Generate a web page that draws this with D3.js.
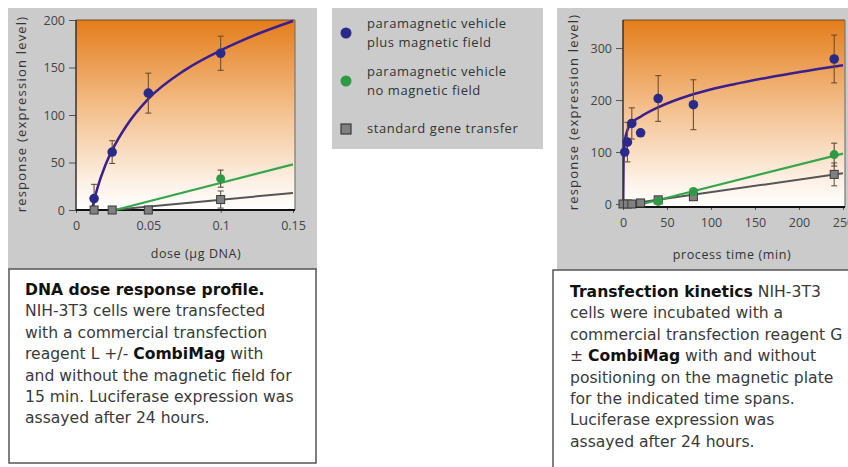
<!DOCTYPE html>
<html><head><meta charset="utf-8">
<script src="https://cdn.jsdelivr.net/npm/d3@7"></script>
<style>body{margin:0;background:#fff}svg{display:block}</style>
</head><body>
<svg id="c" width="848" height="467"></svg>
<script>
// ---------- DATA ----------
// Left chart: DNA dose response
const doseTicks = [0, 0.05, 0.1, 0.15];
const doseRespTicks = [0, 50, 100, 150, 200];
const doseBlueX = [0.0125, 0.025, 0.05, 0.1];
const doseBlueY = [12, 61, 123, 165];
const doseBlueErr = [15, 12, 21, 18];
const doseGreenX = [0.0125, 0.025, 0.05, 0.1];
const doseGreenY = [0, 0, 0, 33];
const doseGreenErr = [0, 0, 0, 9];
const doseGrayX = [0.0125, 0.025, 0.05, 0.1];
const doseGrayY = [0, 0, 0, 11];
const doseGrayErr = [0, 0, 0, 9];
// fitted trend curves
const doseBlueFitX = [0.011, 0.0125, 0.015, 0.02, 0.025, 0.035, 0.05, 0.075, 0.1, 0.125, 0.15];
const doseBlueFitY = [0, 10, 24, 46, 63, 89, 117, 147, 168, 185, 199];
const doseGreenFitX = [0.027, 0.15];
const doseGreenFitY = [0, 48];
const doseGrayFitX = [0.025, 0.15];
const doseGrayFitY = [0, 18];

// Right chart: transfection kinetics
const timeTicks = [0, 50, 100, 150, 200, 250];
const timeRespTicks = [0, 100, 200, 300];
const timeBlueX = [2, 5, 10, 20, 40, 80, 240];
const timeBlueY = [100, 119, 155, 137, 203, 191, 279];
const timeBlueErr = [0, 38, 30, 0, 44, 48, 46];
const timeGreenX = [0, 5, 10, 40, 80, 240];
const timeGreenY = [0, 0, 0, 5, 24, 95];
const timeGreenErr = [0, 0, 0, 0, 0, 22];
const timeGrayX = [0, 5, 10, 20, 40, 80, 240];
const timeGrayY = [0, 0, 0, 2, 8, 14, 57];
const timeGrayErr = [0, 0, 0, 0, 0, 6, 22];
const timeBlueFitX = [0.2, 0.6, 1, 2, 5, 10, 20, 40, 65, 90, 125, 164, 201, 250];
const timeBlueFitY = [0, 80, 100, 120, 142, 156, 168, 186, 203, 216, 230, 243, 254, 267];
const timeGreenFitX = [22, 250];
const timeGreenFitY = [0, 97];
const timeGrayFitX = [10, 250];
const timeGrayFitY = [1, 59];

const legendLabels = [["paramagnetic vehicle", "plus magnetic field"], ["paramagnetic vehicle", "no magnetic field"], ["standard gene transfer"]];

const leftCaption = [
  [["b", "DNA dose response profile."]],
  [["n", "NIH-3T3 cells were transfected"]],
  [["n", "with a commercial transfection"]],
  [["n", "reagent L +/- "], ["b", "CombiMag"], ["n", " with"]],
  [["n", "and without the magnetic field for"]],
  [["n", "15 min. Luciferase expression was"]],
  [["n", "assayed after 24 hours."]]
];
const rightCaption = [
  [["b", "Transfection kinetics"], ["n", " NIH-3T3"]],
  [["n", "cells were incubated with a"]],
  [["n", "commercial transfection reagent G"]],
  [["n", "\u00b1 "], ["b", "CombiMag"], ["n", " with and without"]],
  [["n", "positioning on the magnetic plate"]],
  [["n", "for the indicated time spans."]],
  [["n", "Luciferase expression was"]],
  [["n", "assayed after 24 hours."]]
];

// ---------- DRAW ----------
const svg = d3.select("#c");
const defs = svg.append("defs");
const grad = defs.append("linearGradient").attr("id", "og").attr("x1", 0).attr("y1", 0).attr("x2", 0).attr("y2", 1);
grad.append("stop").attr("offset", "0%").attr("stop-color", "#e47d1a");
grad.append("stop").attr("offset", "45%").attr("stop-color", "#f3bd88");
grad.append("stop").attr("offset", "85%").attr("stop-color", "#fdf0e4");
grad.append("stop").attr("offset", "100%").attr("stop-color", "#ffffff");

const PANEL = "#cbcbcb";
const BLUE = "#2a2a8a", BLUE_LINE = "#3b1f8e";
const GREEN = "#2f9a44", GREEN_LINE = "#36a64a";
const GRAY = "#808080", GRAY_LINE = "#555";
const FONT = "'Open Sans', 'Noto Sans', sans-serif";
const CAPFONT = "'DejaVu Sans', Verdana, sans-serif";

// panels
svg.append("rect").attr("x", 8).attr("y", 8).attr("width", 309).attr("height", 262).attr("fill", PANEL);
svg.append("rect").attr("x", 557).attr("y", 8).attr("width", 300).attr("height", 262).attr("fill", PANEL);
svg.append("rect").attr("x", 332).attr("y", 8).attr("width", 211).attr("height", 141).attr("fill", PANEL);

function chart(o) {
  const g = svg.append("g");
  const x = d3.scaleLinear().domain(o.xDom).range([o.x0, o.x1]);
  const y = d3.scaleLinear().domain(o.yDom).range([o.yZero, o.yTop]);
  g.append("rect").attr("x", o.x0).attr("y", o.yTop).attr("width", o.x1 - o.x0 + o.extraR)
    .attr("height", o.yBottom - o.yTop).attr("fill", "url(#og)");
  g.append("line").attr("x1", o.x0).attr("x2", o.x1 + o.extraR).attr("y1", o.yTop).attr("y2", o.yTop).attr("stroke", "#6a4a2a").attr("stroke-width", 1.2);
  g.append("line").attr("x1", o.x1 + o.extraR).attr("x2", o.x1 + o.extraR).attr("y1", o.yTop).attr("y2", o.yBottom).attr("stroke", "#777").attr("stroke-width", 1.2);

  const ya = g.append("g").attr("transform", `translate(${o.x0},0)`)
    .call(d3.axisLeft(y).tickValues(o.yTicks).tickSize(7).tickPadding(4).tickFormat(d3.format("d")));
  ya.select(".domain").remove();
  ya.append("line").attr("x1", 0).attr("x2", 0).attr("y1", o.yTop).attr("y2", o.yBottom).attr("stroke", "#333").attr("stroke-width", 1.5);
  ya.selectAll(".tick line").attr("stroke", "#555");
  ya.selectAll(".tick text").attr("fill", "#444").attr("font-family", FONT).attr("font-size", 12.5);

  const xa = g.append("g").attr("transform", `translate(0,${o.yBottom})`)
    .call(d3.axisBottom(x).tickValues(o.xTicks).tickSize(3).tickPadding(8).tickFormat(o.xFmt));
  xa.select(".domain").remove();
  xa.append("line").attr("x1", o.x0).attr("x2", o.x1 + o.extraR).attr("y1", 0).attr("y2", 0).attr("stroke", "#111").attr("stroke-width", 2);
  xa.selectAll(".tick line").attr("stroke", "#555");
  xa.selectAll(".tick text").attr("fill", "#444").attr("font-family", FONT).attr("font-size", 12.5);

  g.append("text").attr("x", o.xTitleX).attr("y", o.xTitleY).attr("text-anchor", "middle")
    .attr("font-family", FONT).attr("font-size", 12.5).attr("letter-spacing", 0.6).attr("fill", "#333").text(o.xTitle);
  g.append("text").attr("transform", `translate(${o.yTitleX},${o.yTitleY}) rotate(-90)`).attr("text-anchor", "middle")
    .attr("font-family", FONT).attr("font-size", 13).attr("fill", "#333").attr("letter-spacing", 1.2).text("response (expression level)");

  const clipId = "clip" + o.id;
  defs.append("clipPath").attr("id", clipId).append("rect").attr("x", o.x0).attr("y", o.yTop - 2)
    .attr("width", o.x1 - o.x0 + o.extraR + 4).attr("height", o.yBottom - o.yTop + 4);
  const pg = g.append("g").attr("clip-path", `url(#${clipId})`);

  const line = d3.line().x(d => x(d[0])).y(d => y(d[1])).curve(d3.curveMonotoneX);
  const zip = (a, b, e) => a.map((v, i) => [v, b[i], e ? e[i] : 0]);

  pg.append("path").datum(zip(o.grayFitX, o.grayFitY)).attr("d", line).attr("fill", "none").attr("stroke", GRAY_LINE).attr("stroke-width", 2);
  pg.append("path").datum(zip(o.greenFitX, o.greenFitY)).attr("d", line).attr("fill", "none").attr("stroke", GREEN_LINE).attr("stroke-width", 2.2);
  pg.append("path").datum(zip(o.blueFitX, o.blueFitY)).attr("d", line).attr("fill", "none").attr("stroke", BLUE_LINE).attr("stroke-width", 2.5);

  function errBars(data, col) {
    const eb = g.append("g").attr("stroke", col).attr("stroke-width", 1.1);
    data.filter(d => d[2] > 0).forEach(d => {
      const xx = x(d[0]), y1 = y(d[1] + d[2]), y2 = y(d[1] - d[2]);
      eb.append("line").attr("x1", xx).attr("x2", xx).attr("y1", y1).attr("y2", y2);
      eb.append("line").attr("x1", xx - 3).attr("x2", xx + 3).attr("y1", y1).attr("y2", y1);
      eb.append("line").attr("x1", xx - 3).attr("x2", xx + 3).attr("y1", y2).attr("y2", y2);
    });
  }
  const gray = zip(o.grayX, o.grayY, o.grayErr);
  const green = zip(o.greenX, o.greenY, o.greenErr);
  const blue = zip(o.blueX, o.blueY, o.blueErr);
  errBars(gray, "#5a5a5a");
  errBars(green, "#5a4a30");
  errBars(blue, "#6a5030");

  g.selectAll(".gm").data(gray).join("rect").attr("x", d => x(d[0]) - 4).attr("y", d => y(d[1]) - 4)
    .attr("width", 8).attr("height", 8).attr("fill", GRAY).attr("stroke", "#3a3a3a").attr("stroke-width", 1);
  g.selectAll(".grm").data(green.filter(d => d[1] > 0)).join("circle").attr("cx", d => x(d[0])).attr("cy", d => y(d[1]))
    .attr("r", 4.5).attr("fill", GREEN);
  g.selectAll(".bm").data(blue).join("circle").attr("cx", d => x(d[0])).attr("cy", d => y(d[1]))
    .attr("r", 4.8).attr("fill", BLUE);
}

chart({
  id: "L", x0: 76, x1: 293, extraR: 2, yTop: 20, yZero: 210, yBottom: 210,
  xDom: [0, 0.15], yDom: [0, 200], xTicks: doseTicks, yTicks: doseRespTicks,
  xFmt: d => d === 0 ? "0" : String(d),
  xTitle: "dose (\u00b5g DNA)", xTitleX: 196, xTitleY: 258, yTitleX: 26, yTitleY: 114,
  blueX: doseBlueX, blueY: doseBlueY, blueErr: doseBlueErr,
  greenX: doseGreenX, greenY: doseGreenY, greenErr: doseGreenErr,
  grayX: doseGrayX, grayY: doseGrayY, grayErr: doseGrayErr,
  blueFitX: doseBlueFitX, blueFitY: doseBlueFitY, greenFitX: doseGreenFitX, greenFitY: doseGreenFitY,
  grayFitX: doseGrayFitX, grayFitY: doseGrayFitY
});
chart({
  id: "R", x0: 623, x1: 843, extraR: 2, yTop: 20, yZero: 204, yBottom: 207,
  xDom: [0, 250], yDom: [0, 354], xTicks: timeTicks, yTicks: timeRespTicks,
  xFmt: d3.format("d"),
  xTitle: "process time (min)", xTitleX: 732, xTitleY: 259, yTitleX: 578, yTitleY: 112,
  blueX: timeBlueX, blueY: timeBlueY, blueErr: timeBlueErr,
  greenX: timeGreenX, greenY: timeGreenY, greenErr: timeGreenErr,
  grayX: timeGrayX, grayY: timeGrayY, grayErr: timeGrayErr,
  blueFitX: timeBlueFitX, blueFitY: timeBlueFitY, greenFitX: timeGreenFitX, greenFitY: timeGreenFitY,
  grayFitX: timeGrayFitX, grayFitY: timeGrayFitY
});

// ---------- LEGEND ----------
const lg = svg.append("g").attr("font-family", FONT).attr("font-size", 13).attr("letter-spacing", 0.55).attr("fill", "#333");
const legendY = d3.scalePoint().domain(d3.range(legendLabels.length)).range([33, 129]);
const legendColors = [BLUE, GREEN, GRAY];
legendLabels.forEach((lines, i) => {
  const cy = legendY(i);
  if (i < 2) lg.append("circle").attr("cx", 346).attr("cy", cy).attr("r", 5.5).attr("fill", legendColors[i]);
  else lg.append("rect").attr("x", 341).attr("y", cy - 5).attr("width", 10).attr("height", 10)
    .attr("fill", GRAY).attr("stroke", "#3a3a3a").attr("stroke-width", 1.2);
  const t = lg.append("text").attr("x", 367).attr("y", cy + 4 - (lines.length - 1) * 9.5);
  lines.forEach((s, k) => t.append("tspan").attr("x", 367).attr("dy", k === 0 ? 0 : 19).text(s));
});

// ---------- CAPTIONS ----------
function caption(x0, y0, w, h, lines, tx, ty) {
  svg.append("rect").attr("x", x0).attr("y", y0).attr("width", w).attr("height", h)
    .attr("fill", "#fff").attr("stroke", "#555").attr("stroke-width", 1.5);
  const t = svg.append("text").attr("font-family", CAPFONT).attr("font-size", 15.6).attr("fill", "#3a3a3a");
  lines.forEach((segs, i) => {
    const ln = t.append("tspan").attr("x", tx).attr("y", ty + i * 21.4);
    segs.forEach((s, k) => {
      const sp = k === 0 ? ln : t.append("tspan");
      sp.text(s[1]);
      if (s[0] === "b") sp.attr("font-weight", "bold").attr("fill", "#111");
    });
  });
}
caption(9, 269, 307, 194, leftCaption, 25, 295);
caption(553, 270, 310, 210, rightCaption, 570, 297);
</script>
</body></html>
